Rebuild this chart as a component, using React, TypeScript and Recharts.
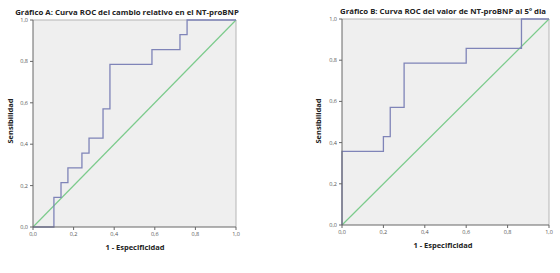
import React from "react";
import {
  LineChart,
  Line,
  XAxis,
  YAxis,
  CartesianGrid,
  ReferenceLine,
} from "recharts";

// Curva ROC A (cambio relativo NT-proBNP): [1 - especificidad, sensibilidad]
const rocAX = [0, 0.103, 0.103, 0.138, 0.138, 0.172, 0.172, 0.241, 0.241, 0.276, 0.276, 0.345, 0.345, 0.379, 0.379, 0.586, 0.586, 0.724, 0.724, 0.759, 0.759, 1];
const rocAY = [0, 0, 0.143, 0.143, 0.214, 0.214, 0.286, 0.286, 0.357, 0.357, 0.429, 0.429, 0.571, 0.571, 0.786, 0.786, 0.857, 0.857, 0.929, 0.929, 1, 1];

// Curva ROC B (valor NT-proBNP al 5º día)
const rocBX = [0, 0, 0.2, 0.2, 0.233, 0.233, 0.3, 0.3, 0.6, 0.6, 0.867, 0.867, 1];
const rocBY = [0, 0.357, 0.357, 0.429, 0.429, 0.571, 0.571, 0.786, 0.786, 0.857, 0.857, 1, 1];

const diagX = [0, 1];
const diagY = [0, 1];

const ticks = [0, 0.2, 0.4, 0.6, 0.8, 1];

const toPoints = (xs: number[], ys: number[]) => xs.map((x, i) => ({ x, y: ys[i] }));
const fmt = (v: number) => v.toFixed(1).replace(".", ",");

const FONT = "'Open Sans', 'DejaVu Sans', sans-serif";
const tickStyle = { fontSize: 5.5, fill: "#555", fontFamily: FONT };

interface RocProps {
  left: number;
  width: number;
  margin: { top: number; right: number; left: number; bottom: number };
  yWidth: number;
  roc: Array<{ x: number; y: number }>;
}

function RocChart({ left, width, margin, yWidth, roc }: RocProps) {
  return (
    <div style={{ position: "absolute", left, top: 0 }}>
      <LineChart width={width} height={273} margin={margin}>
        <CartesianGrid fill="#efefef" horizontal={false} vertical={false} />
        <XAxis
          type="number"
          dataKey="x"
          domain={[0, 1]}
          ticks={ticks}
          tickFormatter={fmt}
          tick={tickStyle}
          tickSize={3}
          height={20}
          stroke="#666"
          allowDuplicatedCategory={false}
        />
        <YAxis
          type="number"
          dataKey="y"
          domain={[0, 1]}
          ticks={ticks}
          tickFormatter={fmt}
          tick={tickStyle}
          tickSize={3}
          width={yWidth}
          stroke="#666"
        />
        <ReferenceLine y={1} stroke="#b5b5b5" />
        <ReferenceLine x={1} stroke="#b5b5b5" />
        <Line
          data={toPoints(diagX, diagY)}
          dataKey="y"
          stroke="#7ccb8c"
          strokeWidth={1.2}
          dot={false}
          isAnimationActive={false}
        />
        <Line
          data={roc}
          dataKey="y"
          stroke="#7f84b8"
          strokeWidth={1.3}
          dot={false}
          isAnimationActive={false}
        />
      </LineChart>
    </div>
  );
}

const textBase: React.CSSProperties = {
  position: "absolute",
  fontFamily: FONT,
  fontWeight: 700,
  color: "#222",
  whiteSpace: "nowrap",
};

export default function App() {
  return (
    <div style={{ position: "absolute", left: 0, top: 0, width: 560, height: 273, background: "#fff" }}>
      <RocChart
        left={0}
        width={250}
        margin={{ top: 20, right: 14, left: 0, bottom: 26 }}
        yWidth={33}
        roc={toPoints(rocAX, rocAY)}
      />
      <RocChart
        left={310}
        width={250}
        margin={{ top: 19, right: 11, left: 0, bottom: 28 }}
        yWidth={32}
        roc={toPoints(rocBX, rocBY)}
      />
      <div style={{ ...textBase, left: 127, top: 12, fontSize: 7.8, transform: "translate(-50%, -50%)" }}>
        Gráfico A: Curva ROC del cambio relativo en el NT-proBNP
      </div>
      <div style={{ ...textBase, left: 443, top: 11, fontSize: 7.8, transform: "translate(-50%, -50%)" }}>
        Gráfico B: Curva ROC del valor de NT-proBNP al 5º dia
      </div>
      <div style={{ ...textBase, left: 135, top: 247, fontSize: 7.5, transform: "translate(-50%, -50%)" }}>
        1 - Especificidad
      </div>
      <div style={{ ...textBase, left: 443, top: 245, fontSize: 7.5, transform: "translate(-50%, -50%)" }}>
        1 - Especificidad
      </div>
      <div style={{ ...textBase, left: 10, top: 121, fontSize: 7.5, transform: "translate(-50%, -50%) rotate(-90deg)" }}>
        Sensibilidad
      </div>
      <div style={{ ...textBase, left: 318, top: 121, fontSize: 7.5, transform: "translate(-50%, -50%) rotate(-90deg)" }}>
        Sensibilidad
      </div>
    </div>
  );
}
